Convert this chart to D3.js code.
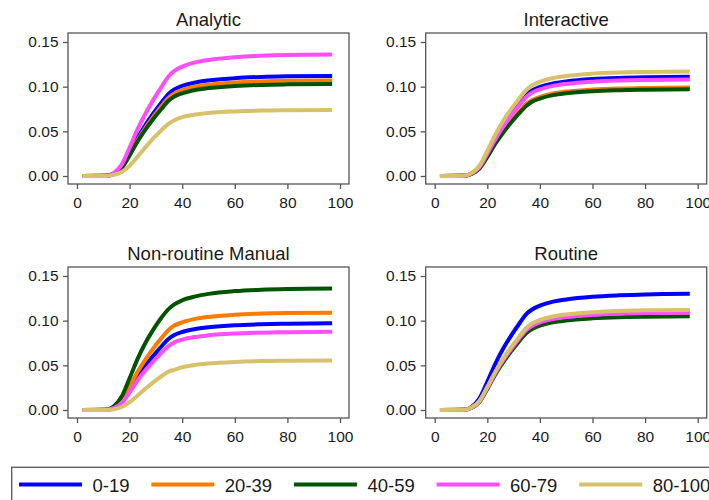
<!DOCTYPE html>
<html>
<head>
<meta charset="utf-8">
<script src="https://cdn.jsdelivr.net/npm/d3@7"></script>
<style>
  body { margin: 0; background: #fff; }
  text { font-family: "Liberation Sans", Arial, sans-serif; fill: #1a1a1a; }
</style>
</head>
<body>
<svg id="chart" width="709" height="500"></svg>
<script>
// age grid (x) shared by all curves
var ages = [2, 11, 14, 17, 20, 23, 26, 29, 32, 35, 37, 40, 45, 50, 60, 70, 80, 97];

var groups = ["0-19", "20-39", "40-59", "60-79", "80-100"];
var colors = ["#0000ff", "#ff7a00", "#005400", "#ff4dff", "#d8c16b"];
var panelTitles = ["Analytic", "Interactive", "Non-routine Manual", "Routine"];

var xTicks = [0, 20, 40, 60, 80, 100];
var yTicks = [0, 0.05, 0.10, 0.15];

// Analytic
var analytic_0_19  = [0, .0002, .0028, .0101, .0258, .0426, .0571, .0700, .0818, .0924, .0969, .1008, .1047, .1070, .1095, .1109, .1116, .1120];
var analytic_20_39 = [0, .0002, .0026, .0094, .0240, .0400, .0540, .0665, .0779, .0881, .0925, .0963, .1000, .1022, .1046, .1059, .1066, .1070];
var analytic_40_59 = [0, .0002, .0024, .0088, .0230, .0385, .0519, .0638, .0747, .0847, .0889, .0926, .0963, .0984, .1007, .1020, .1026, .1030];
var analytic_60_79 = [0, .0003, .0036, .0128, .0318, .0522, .0697, .0852, .0993, .1122, .1176, .1224, .1272, .1299, .1330, .1346, .1355, .1360];
var analytic_80_100 = [0, .0001, .0012, .0045, .0115, .0215, .0320, .0420, .0510, .0590, .0625, .0660, .0688, .0705, .0723, .0733, .0737, .0740];

// Interactive
var interactive_0_19  = [0, .0002, .0027, .0098, .0252, .0418, .0563, .0690, .0808, .0914, .0959, .0998, .1037, .1059, .1085, .1098, .1105, .1110];
var interactive_20_39 = [0, .0002, .0024, .0086, .0220, .0368, .0497, .0610, .0715, .0810, .0850, .0886, .0924, .0945, .0968, .0980, .0986, .0990];
var interactive_40_59 = [0, .0002, .0023, .0083, .0213, .0358, .0484, .0595, .0698, .0790, .0832, .0867, .0905, .0926, .0949, .0960, .0966, .0970];
var interactive_60_79 = [0, .0002, .0027, .0097, .0248, .0410, .0550, .0674, .0787, .0890, .0933, .0971, .1009, .1031, .1056, .1069, .1075, .1080];
var interactive_80_100 = [0, .0003, .0032, .0115, .0280, .0460, .0615, .0745, .0862, .0968, .1015, .1055, .1097, .1120, .1146, .1159, .1165, .1170];

// Non-routine Manual
var manual_0_19  = [0, .0002, .0024, .0088, .0222, .0368, .0495, .0606, .0708, .0800, .0839, .0873, .0907, .0926, .0949, .0960, .0966, .0970];
var manual_20_39 = [0, .0002, .0029, .0104, .0260, .0425, .0565, .0690, .0802, .0902, .0945, .0982, .1020, .1042, .1066, .1079, .1086, .1090];
var manual_40_59 = [0, .0003, .0042, .0150, .0355, .0570, .0750, .0900, .1030, .1135, .1182, .1228, .1272, .1300, .1331, .1347, .1355, .1360];
var manual_60_79 = [0, .0002, .0021, .0078, .0198, .0330, .0444, .0545, .0637, .0721, .0757, .0788, .0818, .0836, .0856, .0866, .0871, .0875];
var manual_80_100 = [0, .0001, .0009, .0034, .0087, .0160, .0238, .0310, .0375, .0432, .0450, .0478, .0505, .0520, .0538, .0548, .0552, .0555];

// Routine
var routine_0_19  = [0, .0003, .0036, .0128, .0315, .0515, .0685, .0830, .0960, .1078, .1125, .1168, .1213, .1238, .1268, .1284, .1294, .1300];
var routine_20_39 = [0, .0002, .0027, .0099, .0254, .0421, .0565, .0693, .0810, .0915, .0959, .0998, .1037, .1059, .1085, .1098, .1105, .1110];
var routine_40_59 = [0, .0002, .0024, .0090, .0236, .0395, .0533, .0654, .0765, .0865, .0907, .0944, .0981, .1002, .1026, .1039, .1045, .1050];
var routine_60_79 = [0, .0002, .0026, .0096, .0248, .0412, .0554, .0680, .0795, .0898, .0941, .0980, .1018, .1040, .1065, .1078, .1085, .1090];
var routine_80_100 = [0, .0002, .0028, .0101, .0258, .0426, .0571, .0700, .0818, .0924, .0969, .1008, .1047, .1070, .1095, .1109, .1116, .1120];

var panels = [
    [analytic_0_19, analytic_20_39, analytic_40_59, analytic_60_79, analytic_80_100],
    [interactive_0_19, interactive_20_39, interactive_40_59, interactive_60_79, interactive_80_100],
    [manual_0_19, manual_20_39, manual_40_59, manual_60_79, manual_80_100],
    [routine_0_19, routine_20_39, routine_40_59, routine_60_79, routine_80_100]
];

var svg = d3.select("#chart");
var boxW = 281, boxH = 151;
var colX = [68, 425.7], rowY = [33, 267];
var axisColor = "#555";

var xScale = d3.scaleLinear().domain([0, 100]).range([9, 272]);
var yScale = d3.scaleLinear().domain([0, 0.15]).range([143, 9]);

var line = d3.line()
    .x(function (d) { return xScale(d[0]); })
    .y(function (d) { return yScale(d[1]); })
    .curve(d3.curveMonotoneX);

panels.forEach(function (series, i) {
    var g = svg.append("g")
        .attr("transform", "translate(" + colX[i % 2] + "," + rowY[Math.floor(i / 2)] + ")");

    g.append("text")
        .attr("x", boxW / 2)
        .attr("y", -7.5)
        .attr("text-anchor", "middle")
        .style("font-size", "18.5px")
        .text(panelTitles[i]);

    series.forEach(function (vals, j) {
        g.append("path")
            .datum(ages.map(function (a, k) { return [a, vals[k]]; }))
            .attr("fill", "none")
            .attr("stroke", colors[j])
            .attr("stroke-width", 4)
            .attr("d", line);
    });

    g.append("rect")
        .attr("width", boxW)
        .attr("height", boxH)
        .attr("fill", "none")
        .attr("stroke", axisColor)
        .attr("stroke-width", 1.3);

    var xa = g.append("g")
        .attr("transform", "translate(0," + boxH + ")")
        .call(d3.axisBottom(xScale).tickValues(xTicks).tickSize(5).tickPadding(8).tickSizeOuter(0));
    var ya = g.append("g")
        .call(d3.axisLeft(yScale).tickValues(yTicks).tickFormat(d3.format(".2f")).tickSize(5).tickPadding(4.5).tickSizeOuter(0));

    [xa, ya].forEach(function (a) {
        a.select(".domain").remove();
        a.selectAll("line").attr("stroke", axisColor).attr("stroke-width", 1.3);
        a.selectAll("text")
            .style("font-size", "15.5px")
            .style("font-family", "'Liberation Sans', Arial, sans-serif")
            .attr("fill", "#1a1a1a");
    });
});

// legend
var leg = svg.append("g");
leg.append("rect")
    .attr("x", 11.7).attr("y", 467.3)
    .attr("width", 720).attr("height", 60)
    .attr("fill", "none")
    .attr("stroke", axisColor)
    .attr("stroke-width", 1.3);

var lx = 19;
groups.forEach(function (name, j) {
    leg.append("line")
        .attr("x1", lx).attr("x2", lx + 63)
        .attr("y1", 484.5).attr("y2", 484.5)
        .attr("stroke", colors[j])
        .attr("stroke-width", 4);
    var t = leg.append("text")
        .attr("x", lx + 73.5)
        .attr("y", 492.3)
        .style("font-size", "18.5px")
        .text(name);
    lx = lx + 73.5 + t.node().getComputedTextLength() + 21.8;
});
</script>
</body>
</html>
